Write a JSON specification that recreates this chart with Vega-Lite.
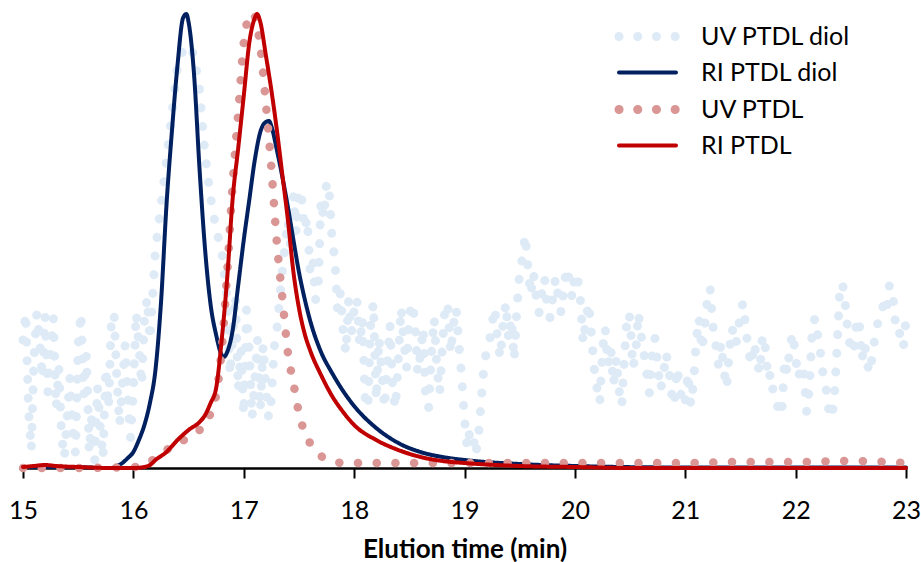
{
  "$schema": "https://vega.github.io/schema/vega-lite/v6.json",
  "width": 883,
  "height": 458,
  "autosize": {"type": "none"},
  "padding": {"left": 23, "top": 10, "right": 15, "bottom": 94},
  "background": "white",
  "config": {"view": {"stroke": null}, "font": "Lato"},
  "datasets": {
    "uvdiol": [
      {"s":"UV PTDL diol","t":15.000,"v":128},{"s":"UV PTDL diol","t":15.025,"v":155},{"s":"UV PTDL diol","t":15.050,"v":58},{"s":"UV PTDL diol","t":15.075,"v":18},{"s":"UV PTDL diol","t":15.100,"v":111},{"s":"UV PTDL diol","t":15.125,"v":155},{"s":"UV PTDL diol","t":15.150,"v":130},{"s":"UV PTDL diol","t":15.175,"v":90},{"s":"UV PTDL diol","t":15.200,"v":152},{"s":"UV PTDL diol","t":15.225,"v":76},
      {"s":"UV PTDL diol","t":15.250,"v":116},{"s":"UV PTDL diol","t":15.275,"v":150},{"s":"UV PTDL diol","t":15.300,"v":60},{"s":"UV PTDL diol","t":15.325,"v":100},{"s":"UV PTDL diol","t":15.350,"v":31},{"s":"UV PTDL diol","t":15.375,"v":10},{"s":"UV PTDL diol","t":15.400,"v":50},{"s":"UV PTDL diol","t":15.425,"v":90},{"s":"UV PTDL diol","t":15.450,"v":38},{"s":"UV PTDL diol","t":15.475,"v":15},
      {"s":"UV PTDL diol","t":15.500,"v":123},{"s":"UV PTDL diol","t":15.525,"v":155},{"s":"UV PTDL diol","t":15.550,"v":73},{"s":"UV PTDL diol","t":15.575,"v":113},{"s":"UV PTDL diol","t":15.600,"v":16},{"s":"UV PTDL diol","t":15.625,"v":56},{"s":"UV PTDL diol","t":15.650,"v":8},{"s":"UV PTDL diol","t":15.675,"v":81},{"s":"UV PTDL diol","t":15.700,"v":41},{"s":"UV PTDL diol","t":15.725,"v":10},
      {"s":"UV PTDL diol","t":15.750,"v":100},{"s":"UV PTDL diol","t":15.775,"v":60},{"s":"UV PTDL diol","t":15.800,"v":146},{"s":"UV PTDL diol","t":15.825,"v":155},{"s":"UV PTDL diol","t":15.850,"v":90},{"s":"UV PTDL diol","t":15.875,"v":43},{"s":"UV PTDL diol","t":15.900,"v":83},{"s":"UV PTDL diol","t":15.925,"v":123},{"s":"UV PTDL diol","t":15.950,"v":70},{"s":"UV PTDL diol","t":15.975,"v":30},
      {"s":"UV PTDL diol","t":16.000,"v":78},{"s":"UV PTDL diol","t":16.025,"v":155},{"s":"UV PTDL diol","t":16.050,"v":123},{"s":"UV PTDL diol","t":16.075,"v":83},{"s":"UV PTDL diol","t":16.100,"v":148},{"s":"UV PTDL diol","t":16.125,"v":170},{"s":"UV PTDL diol","t":16.150,"v":128},{"s":"UV PTDL diol","t":16.175,"v":173},{"s":"UV PTDL diol","t":16.200,"v":218},{"s":"UV PTDL diol","t":16.250,"v":262},
      {"s":"UV PTDL diol","t":16.300,"v":308},{"s":"UV PTDL diol","t":16.350,"v":355},{"s":"UV PTDL diol","t":16.400,"v":402},{"s":"UV PTDL diol","t":16.450,"v":418},{"s":"UV PTDL diol","t":16.500,"v":423},{"s":"UV PTDL diol","t":16.550,"v":413},{"s":"UV PTDL diol","t":16.600,"v":378},{"s":"UV PTDL diol","t":16.650,"v":313},{"s":"UV PTDL diol","t":16.700,"v":270},{"s":"UV PTDL diol","t":16.750,"v":238},
      {"s":"UV PTDL diol","t":16.775,"v":228},{"s":"UV PTDL diol","t":16.800,"v":218},{"s":"UV PTDL diol","t":16.825,"v":193},{"s":"UV PTDL diol","t":16.850,"v":168},{"s":"UV PTDL diol","t":16.875,"v":93},{"s":"UV PTDL diol","t":16.900,"v":133},{"s":"UV PTDL diol","t":16.925,"v":173},{"s":"UV PTDL diol","t":16.950,"v":78},{"s":"UV PTDL diol","t":16.975,"v":118},{"s":"UV PTDL diol","t":17.000,"v":53},
      {"s":"UV PTDL diol","t":17.025,"v":158},{"s":"UV PTDL diol","t":17.050,"v":118},{"s":"UV PTDL diol","t":17.075,"v":50},{"s":"UV PTDL diol","t":17.100,"v":88},{"s":"UV PTDL diol","t":17.125,"v":128},{"s":"UV PTDL diol","t":17.150,"v":58},{"s":"UV PTDL diol","t":17.175,"v":123},{"s":"UV PTDL diol","t":17.200,"v":83},{"s":"UV PTDL diol","t":17.225,"v":50},{"s":"UV PTDL diol","t":17.250,"v":68},
      {"s":"UV PTDL diol","t":17.275,"v":120},{"s":"UV PTDL diol","t":17.300,"v":138},{"s":"UV PTDL diol","t":17.325,"v":168},{"s":"UV PTDL diol","t":17.350,"v":198},{"s":"UV PTDL diol","t":17.375,"v":223},{"s":"UV PTDL diol","t":17.400,"v":248},{"s":"UV PTDL diol","t":17.425,"v":220},{"s":"UV PTDL diol","t":17.450,"v":273},{"s":"UV PTDL diol","t":17.475,"v":235},{"s":"UV PTDL diol","t":17.500,"v":278},
      {"s":"UV PTDL diol","t":17.525,"v":270},{"s":"UV PTDL diol","t":17.550,"v":238},{"s":"UV PTDL diol","t":17.575,"v":250},{"s":"UV PTDL diol","t":17.600,"v":198},{"s":"UV PTDL diol","t":17.625,"v":210},{"s":"UV PTDL diol","t":17.650,"v":168},{"s":"UV PTDL diol","t":17.675,"v":180},{"s":"UV PTDL diol","t":17.700,"v":268},{"s":"UV PTDL diol","t":17.725,"v":250},{"s":"UV PTDL diol","t":17.750,"v":286},
      {"s":"UV PTDL diol","t":17.775,"v":275},{"s":"UV PTDL diol","t":17.800,"v":228},{"s":"UV PTDL diol","t":17.825,"v":210},{"s":"UV PTDL diol","t":17.850,"v":158},{"s":"UV PTDL diol","t":17.875,"v":175},{"s":"UV PTDL diol","t":17.900,"v":138},{"s":"UV PTDL diol","t":17.925,"v":115},{"s":"UV PTDL diol","t":17.950,"v":168},{"s":"UV PTDL diol","t":17.975,"v":135},{"s":"UV PTDL diol","t":18.000,"v":158},
      {"s":"UV PTDL diol","t":18.025,"v":170},{"s":"UV PTDL diol","t":18.050,"v":123},{"s":"UV PTDL diol","t":18.075,"v":150},{"s":"UV PTDL diol","t":18.100,"v":68},{"s":"UV PTDL diol","t":18.125,"v":60},{"s":"UV PTDL diol","t":18.150,"v":146},{"s":"UV PTDL diol","t":18.175,"v":165},{"s":"UV PTDL diol","t":18.200,"v":68},{"s":"UV PTDL diol","t":18.225,"v":130},{"s":"UV PTDL diol","t":18.250,"v":98},
      {"s":"UV PTDL diol","t":18.275,"v":60},{"s":"UV PTDL diol","t":18.300,"v":103},{"s":"UV PTDL diol","t":18.325,"v":143},{"s":"UV PTDL diol","t":18.350,"v":78},{"s":"UV PTDL diol","t":18.375,"v":60},{"s":"UV PTDL diol","t":18.400,"v":108},{"s":"UV PTDL diol","t":18.425,"v":160},{"s":"UV PTDL diol","t":18.450,"v":128},{"s":"UV PTDL diol","t":18.475,"v":100},{"s":"UV PTDL diol","t":18.500,"v":153},
      {"s":"UV PTDL diol","t":18.525,"v":165},{"s":"UV PTDL diol","t":18.550,"v":148},{"s":"UV PTDL diol","t":18.575,"v":95},{"s":"UV PTDL diol","t":18.600,"v":113},{"s":"UV PTDL diol","t":18.625,"v":140},{"s":"UV PTDL diol","t":18.650,"v":63},{"s":"UV PTDL diol","t":18.675,"v":60},{"s":"UV PTDL diol","t":18.700,"v":115},{"s":"UV PTDL diol","t":18.725,"v":150},{"s":"UV PTDL diol","t":18.750,"v":101},
      {"s":"UV PTDL diol","t":18.775,"v":75},{"s":"UV PTDL diol","t":18.800,"v":123},{"s":"UV PTDL diol","t":18.825,"v":165},{"s":"UV PTDL diol","t":18.850,"v":160},{"s":"UV PTDL diol","t":18.875,"v":115},{"s":"UV PTDL diol","t":18.900,"v":143},{"s":"UV PTDL diol","t":18.925,"v":160},{"s":"UV PTDL diol","t":18.950,"v":123},{"s":"UV PTDL diol","t":18.975,"v":90},{"s":"UV PTDL diol","t":19.000,"v":48},
      {"s":"UV PTDL diol","t":19.025,"v":20},{"s":"UV PTDL diol","t":19.050,"v":38},{"s":"UV PTDL diol","t":19.075,"v":35},{"s":"UV PTDL diol","t":19.100,"v":13},{"s":"UV PTDL diol","t":19.125,"v":30},{"s":"UV PTDL diol","t":19.150,"v":66},{"s":"UV PTDL diol","t":19.175,"v":100},{"s":"UV PTDL diol","t":19.200,"v":118},{"s":"UV PTDL diol","t":19.225,"v":125},{"s":"UV PTDL diol","t":19.250,"v":145},
      {"s":"UV PTDL diol","t":19.275,"v":160},{"s":"UV PTDL diol","t":19.300,"v":126},{"s":"UV PTDL diol","t":19.325,"v":110},{"s":"UV PTDL diol","t":19.350,"v":146},{"s":"UV PTDL diol","t":19.375,"v":165},{"s":"UV PTDL diol","t":19.400,"v":128},{"s":"UV PTDL diol","t":19.425,"v":150},{"s":"UV PTDL diol","t":19.450,"v":108},{"s":"UV PTDL diol","t":19.475,"v":160},{"s":"UV PTDL diol","t":19.500,"v":196},
      {"s":"UV PTDL diol","t":19.525,"v":210},{"s":"UV PTDL diol","t":19.550,"v":233},{"s":"UV PTDL diol","t":19.575,"v":200},{"s":"UV PTDL diol","t":19.600,"v":173},{"s":"UV PTDL diol","t":19.625,"v":195},{"s":"UV PTDL diol","t":19.650,"v":171},{"s":"UV PTDL diol","t":19.675,"v":155},{"s":"UV PTDL diol","t":19.700,"v":175},{"s":"UV PTDL diol","t":19.725,"v":190},{"s":"UV PTDL diol","t":19.750,"v":161},
      {"s":"UV PTDL diol","t":19.775,"v":150},{"s":"UV PTDL diol","t":19.800,"v":171},{"s":"UV PTDL diol","t":19.825,"v":190},{"s":"UV PTDL diol","t":19.850,"v":171},{"s":"UV PTDL diol","t":19.875,"v":155},{"s":"UV PTDL diol","t":19.900,"v":181},{"s":"UV PTDL diol","t":19.925,"v":200},{"s":"UV PTDL diol","t":19.950,"v":188},{"s":"UV PTDL diol","t":19.975,"v":170},{"s":"UV PTDL diol","t":20.000,"v":195},
      {"s":"UV PTDL diol","t":20.025,"v":190},{"s":"UV PTDL diol","t":20.050,"v":168},{"s":"UV PTDL diol","t":20.075,"v":125},{"s":"UV PTDL diol","t":20.100,"v":148},{"s":"UV PTDL diol","t":20.125,"v":165},{"s":"UV PTDL diol","t":20.150,"v":133},{"s":"UV PTDL diol","t":20.175,"v":100},{"s":"UV PTDL diol","t":20.200,"v":80},{"s":"UV PTDL diol","t":20.225,"v":65},{"s":"UV PTDL diol","t":20.250,"v":118},
      {"s":"UV PTDL diol","t":20.275,"v":140},{"s":"UV PTDL diol","t":20.300,"v":103},{"s":"UV PTDL diol","t":20.325,"v":120},{"s":"UV PTDL diol","t":20.350,"v":83},{"s":"UV PTDL diol","t":20.375,"v":110},{"s":"UV PTDL diol","t":20.400,"v":78},{"s":"UV PTDL diol","t":20.425,"v":62},{"s":"UV PTDL diol","t":20.450,"v":113},{"s":"UV PTDL diol","t":20.475,"v":155},{"s":"UV PTDL diol","t":20.500,"v":150},
      {"s":"UV PTDL diol","t":20.525,"v":100},{"s":"UV PTDL diol","t":20.550,"v":113},{"s":"UV PTDL diol","t":20.575,"v":155},{"s":"UV PTDL diol","t":20.600,"v":133},{"s":"UV PTDL diol","t":20.625,"v":115},{"s":"UV PTDL diol","t":20.650,"v":95},{"s":"UV PTDL diol","t":20.675,"v":75},{"s":"UV PTDL diol","t":20.700,"v":113},{"s":"UV PTDL diol","t":20.725,"v":130},{"s":"UV PTDL diol","t":20.750,"v":103},
      {"s":"UV PTDL diol","t":20.775,"v":78},{"s":"UV PTDL diol","t":20.800,"v":90},{"s":"UV PTDL diol","t":20.825,"v":115},{"s":"UV PTDL diol","t":20.850,"v":101},{"s":"UV PTDL diol","t":20.875,"v":75},{"s":"UV PTDL diol","t":20.900,"v":63},{"s":"UV PTDL diol","t":20.925,"v":100},{"s":"UV PTDL diol","t":20.950,"v":83},{"s":"UV PTDL diol","t":20.975,"v":62},{"s":"UV PTDL diol","t":21.000,"v":68},
      {"s":"UV PTDL diol","t":21.025,"v":95},{"s":"UV PTDL diol","t":21.050,"v":63},{"s":"UV PTDL diol","t":21.075,"v":85},{"s":"UV PTDL diol","t":21.100,"v":128},{"s":"UV PTDL diol","t":21.125,"v":150},{"s":"UV PTDL diol","t":21.150,"v":118},{"s":"UV PTDL diol","t":21.175,"v":140},{"s":"UV PTDL diol","t":21.200,"v":168},{"s":"UV PTDL diol","t":21.225,"v":180},{"s":"UV PTDL diol","t":21.250,"v":143},
      {"s":"UV PTDL diol","t":21.275,"v":125},{"s":"UV PTDL diol","t":21.300,"v":103},{"s":"UV PTDL diol","t":21.325,"v":125},{"s":"UV PTDL diol","t":21.350,"v":98},{"s":"UV PTDL diol","t":21.375,"v":80},{"s":"UV PTDL diol","t":21.400,"v":118},{"s":"UV PTDL diol","t":21.425,"v":140},{"s":"UV PTDL diol","t":21.450,"v":123},{"s":"UV PTDL diol","t":21.475,"v":130},{"s":"UV PTDL diol","t":21.500,"v":158},
      {"s":"UV PTDL diol","t":21.525,"v":165},{"s":"UV PTDL diol","t":21.550,"v":138},{"s":"UV PTDL diol","t":21.575,"v":115},{"s":"UV PTDL diol","t":21.600,"v":103},{"s":"UV PTDL diol","t":21.625,"v":125},{"s":"UV PTDL diol","t":21.650,"v":106},{"s":"UV PTDL diol","t":21.675,"v":95},{"s":"UV PTDL diol","t":21.700,"v":133},{"s":"UV PTDL diol","t":21.725,"v":120},{"s":"UV PTDL diol","t":21.750,"v":88},
      {"s":"UV PTDL diol","t":21.775,"v":95},{"s":"UV PTDL diol","t":21.800,"v":73},{"s":"UV PTDL diol","t":21.825,"v":70},{"s":"UV PTDL diol","t":21.850,"v":53},{"s":"UV PTDL diol","t":21.875,"v":55},{"s":"UV PTDL diol","t":21.900,"v":108},{"s":"UV PTDL diol","t":21.925,"v":95},{"s":"UV PTDL diol","t":21.950,"v":123},{"s":"UV PTDL diol","t":21.975,"v":135},{"s":"UV PTDL diol","t":22.000,"v":110},
      {"s":"UV PTDL diol","t":22.025,"v":90},{"s":"UV PTDL diol","t":22.050,"v":103},{"s":"UV PTDL diol","t":22.075,"v":95},{"s":"UV PTDL diol","t":22.100,"v":56},{"s":"UV PTDL diol","t":22.125,"v":80},{"s":"UV PTDL diol","t":22.150,"v":138},{"s":"UV PTDL diol","t":22.175,"v":150},{"s":"UV PTDL diol","t":22.200,"v":133},{"s":"UV PTDL diol","t":22.225,"v":115},{"s":"UV PTDL diol","t":22.250,"v":93},
      {"s":"UV PTDL diol","t":22.275,"v":80},{"s":"UV PTDL diol","t":22.300,"v":58},{"s":"UV PTDL diol","t":22.325,"v":50},{"s":"UV PTDL diol","t":22.350,"v":68},{"s":"UV PTDL diol","t":22.375,"v":120},{"s":"UV PTDL diol","t":22.400,"v":178},{"s":"UV PTDL diol","t":22.425,"v":185},{"s":"UV PTDL diol","t":22.450,"v":163},{"s":"UV PTDL diol","t":22.475,"v":135},{"s":"UV PTDL diol","t":22.500,"v":118},
      {"s":"UV PTDL diol","t":22.525,"v":115},{"s":"UV PTDL diol","t":22.550,"v":143},{"s":"UV PTDL diol","t":22.575,"v":150},{"s":"UV PTDL diol","t":22.600,"v":108},{"s":"UV PTDL diol","t":22.625,"v":125},{"s":"UV PTDL diol","t":22.650,"v":103},{"s":"UV PTDL diol","t":22.675,"v":95},{"s":"UV PTDL diol","t":22.700,"v":118},{"s":"UV PTDL diol","t":22.725,"v":135},{"s":"UV PTDL diol","t":22.750,"v":148},
      {"s":"UV PTDL diol","t":22.775,"v":150},{"s":"UV PTDL diol","t":22.800,"v":168},{"s":"UV PTDL diol","t":22.825,"v":160},{"s":"UV PTDL diol","t":22.850,"v":183},{"s":"UV PTDL diol","t":22.875,"v":180},{"s":"UV PTDL diol","t":22.900,"v":148},{"s":"UV PTDL diol","t":22.925,"v":150},{"s":"UV PTDL diol","t":22.950,"v":128},{"s":"UV PTDL diol","t":22.975,"v":120},{"s":"UV PTDL diol","t":23.000,"v":148}
    ],
    "ridiol": [
      {"s":"RI PTDL diol","t":15.00,"v":1},{"s":"RI PTDL diol","t":15.40,"v":1},{"s":"RI PTDL diol","t":15.80,"v":0},{"s":"RI PTDL diol","t":15.85,"v":2},{"s":"RI PTDL diol","t":15.90,"v":5},{"s":"RI PTDL diol","t":15.95,"v":10},{"s":"RI PTDL diol","t":16.00,"v":16},{"s":"RI PTDL diol","t":16.05,"v":28},{"s":"RI PTDL diol","t":16.10,"v":43},{"s":"RI PTDL diol","t":16.15,"v":65},
      {"s":"RI PTDL diol","t":16.20,"v":98},{"s":"RI PTDL diol","t":16.25,"v":165},{"s":"RI PTDL diol","t":16.30,"v":263},{"s":"RI PTDL diol","t":16.35,"v":338},{"s":"RI PTDL diol","t":16.40,"v":403},{"s":"RI PTDL diol","t":16.45,"v":450},{"s":"RI PTDL diol","t":16.48,"v":454},{"s":"RI PTDL diol","t":16.50,"v":446},{"s":"RI PTDL diol","t":16.55,"v":393},{"s":"RI PTDL diol","t":16.60,"v":298},
      {"s":"RI PTDL diol","t":16.65,"v":218},{"s":"RI PTDL diol","t":16.70,"v":163},{"s":"RI PTDL diol","t":16.75,"v":133},{"s":"RI PTDL diol","t":16.80,"v":113},{"s":"RI PTDL diol","t":16.82,"v":111},{"s":"RI PTDL diol","t":16.85,"v":116},{"s":"RI PTDL diol","t":16.90,"v":138},{"s":"RI PTDL diol","t":16.95,"v":183},{"s":"RI PTDL diol","t":17.00,"v":228},{"s":"RI PTDL diol","t":17.05,"v":268},
      {"s":"RI PTDL diol","t":17.10,"v":308},{"s":"RI PTDL diol","t":17.15,"v":336},{"s":"RI PTDL diol","t":17.20,"v":346},{"s":"RI PTDL diol","t":17.23,"v":347},{"s":"RI PTDL diol","t":17.25,"v":342},{"s":"RI PTDL diol","t":17.30,"v":318},{"s":"RI PTDL diol","t":17.35,"v":291},{"s":"RI PTDL diol","t":17.40,"v":261},{"s":"RI PTDL diol","t":17.45,"v":228},{"s":"RI PTDL diol","t":17.50,"v":196},
      {"s":"RI PTDL diol","t":17.55,"v":170},{"s":"RI PTDL diol","t":17.60,"v":148},{"s":"RI PTDL diol","t":17.70,"v":116},{"s":"RI PTDL diol","t":17.80,"v":95},{"s":"RI PTDL diol","t":17.90,"v":77},{"s":"RI PTDL diol","t":18.00,"v":62},{"s":"RI PTDL diol","t":18.20,"v":40},{"s":"RI PTDL diol","t":18.40,"v":25},{"s":"RI PTDL diol","t":18.60,"v":16},{"s":"RI PTDL diol","t":18.80,"v":11},
      {"s":"RI PTDL diol","t":19.00,"v":8},{"s":"RI PTDL diol","t":19.50,"v":4},{"s":"RI PTDL diol","t":20.00,"v":2},{"s":"RI PTDL diol","t":21.00,"v":0.5},{"s":"RI PTDL diol","t":22.00,"v":0.5},{"s":"RI PTDL diol","t":23.00,"v":0.5}
    ],
    "uv": [
      {"s":"UV PTDL","t":15.00,"v":0},{"s":"UV PTDL","t":15.50,"v":0},{"s":"UV PTDL","t":16.00,"v":1},{"s":"UV PTDL","t":16.10,"v":3},{"s":"UV PTDL","t":16.20,"v":10},{"s":"UV PTDL","t":16.30,"v":18},{"s":"UV PTDL","t":16.40,"v":24},{"s":"UV PTDL","t":16.50,"v":31},{"s":"UV PTDL","t":16.60,"v":38},{"s":"UV PTDL","t":16.65,"v":43},
      {"s":"UV PTDL","t":16.70,"v":55},{"s":"UV PTDL","t":16.75,"v":73},{"s":"UV PTDL","t":16.80,"v":118},{"s":"UV PTDL","t":16.85,"v":195},{"s":"UV PTDL","t":16.90,"v":285},{"s":"UV PTDL","t":16.95,"v":355},{"s":"UV PTDL","t":17.00,"v":425},{"s":"UV PTDL","t":17.05,"v":452},{"s":"UV PTDL","t":17.08,"v":455},{"s":"UV PTDL","t":17.10,"v":452},
      {"s":"UV PTDL","t":17.15,"v":421},{"s":"UV PTDL","t":17.20,"v":365},{"s":"UV PTDL","t":17.25,"v":300},{"s":"UV PTDL","t":17.30,"v":225},{"s":"UV PTDL","t":17.35,"v":170},{"s":"UV PTDL","t":17.40,"v":115},{"s":"UV PTDL","t":17.45,"v":85},{"s":"UV PTDL","t":17.50,"v":55},{"s":"UV PTDL","t":17.55,"v":36},{"s":"UV PTDL","t":17.60,"v":25},
      {"s":"UV PTDL","t":17.70,"v":12},{"s":"UV PTDL","t":17.80,"v":7},{"s":"UV PTDL","t":17.90,"v":5},{"s":"UV PTDL","t":18.00,"v":5},{"s":"UV PTDL","t":18.50,"v":5},{"s":"UV PTDL","t":19.00,"v":5},{"s":"UV PTDL","t":19.50,"v":5},{"s":"UV PTDL","t":20.00,"v":5},{"s":"UV PTDL","t":20.50,"v":5},{"s":"UV PTDL","t":21.00,"v":5},
      {"s":"UV PTDL","t":21.50,"v":6},{"s":"UV PTDL","t":22.00,"v":6},{"s":"UV PTDL","t":22.50,"v":7},{"s":"UV PTDL","t":23.00,"v":5}
    ],
    "ri": [
      {"s":"RI PTDL","t":15.00,"v":1},{"s":"RI PTDL","t":15.10,"v":2},{"s":"RI PTDL","t":15.20,"v":3},{"s":"RI PTDL","t":15.30,"v":2},{"s":"RI PTDL","t":15.50,"v":1},{"s":"RI PTDL","t":15.80,"v":0},{"s":"RI PTDL","t":16.00,"v":0},{"s":"RI PTDL","t":16.10,"v":1},{"s":"RI PTDL","t":16.15,"v":3},{"s":"RI PTDL","t":16.20,"v":8},
      {"s":"RI PTDL","t":16.30,"v":16},{"s":"RI PTDL","t":16.40,"v":28},{"s":"RI PTDL","t":16.50,"v":38},{"s":"RI PTDL","t":16.60,"v":46},{"s":"RI PTDL","t":16.65,"v":53},{"s":"RI PTDL","t":16.70,"v":65},{"s":"RI PTDL","t":16.75,"v":80},{"s":"RI PTDL","t":16.80,"v":128},{"s":"RI PTDL","t":16.85,"v":190},{"s":"RI PTDL","t":16.90,"v":270},
      {"s":"RI PTDL","t":16.95,"v":320},{"s":"RI PTDL","t":17.00,"v":372},{"s":"RI PTDL","t":17.05,"v":425},{"s":"RI PTDL","t":17.10,"v":450},{"s":"RI PTDL","t":17.12,"v":454},{"s":"RI PTDL","t":17.15,"v":446},{"s":"RI PTDL","t":17.20,"v":413},{"s":"RI PTDL","t":17.25,"v":378},{"s":"RI PTDL","t":17.30,"v":338},{"s":"RI PTDL","t":17.35,"v":293},
      {"s":"RI PTDL","t":17.40,"v":248},{"s":"RI PTDL","t":17.45,"v":196},{"s":"RI PTDL","t":17.50,"v":160},{"s":"RI PTDL","t":17.55,"v":135},{"s":"RI PTDL","t":17.60,"v":118},{"s":"RI PTDL","t":17.70,"v":93},{"s":"RI PTDL","t":17.80,"v":72},{"s":"RI PTDL","t":17.90,"v":56},{"s":"RI PTDL","t":18.00,"v":43},{"s":"RI PTDL","t":18.20,"v":28},
      {"s":"RI PTDL","t":18.40,"v":18},{"s":"RI PTDL","t":18.60,"v":11},{"s":"RI PTDL","t":18.80,"v":7},{"s":"RI PTDL","t":19.00,"v":5},{"s":"RI PTDL","t":19.50,"v":2},{"s":"RI PTDL","t":20.00,"v":1},{"s":"RI PTDL","t":20.50,"v":0},{"s":"RI PTDL","t":23.00,"v":0}
    ]
  },
  "encoding": {
    "x": {
      "field": "t", "type": "quantitative",
      "scale": {"domain": [15, 23], "nice": false, "zero": false},
      "axis": {
        "values": [15, 16, 17, 18, 19, 20, 21, 22, 23], "format": "d",
        "title": "Elution time (min)", "titleFont": "Lato", "titleFontSize": 26, "titleFontWeight": "bold", "titleColor": "black", "titlePadding": 13,
        "labelFont": "Lato", "labelFontSize": 25, "labelColor": "black", "labelPadding": 20, "labelFlush": false,
        "domainColor": "black", "domainWidth": 2.5, "tickColor": "black", "tickWidth": 2, "tickSize": 10, "grid": false
      }
    },
    "y": {"field": "v", "type": "quantitative", "scale": {"domain": [0, 458], "nice": false}, "axis": null},
    "color": {
      "field": "s", "type": "nominal",
      "scale": {"domain": ["UV PTDL diol", "RI PTDL diol", "UV PTDL", "RI PTDL"], "range": ["#DEEBF7", "#002060", "#D99694", "#C00000"]},
      "legend": {"orient": "none", "legendX": 612, "legendY": 14, "title": null, "padding": 0, "labelFont": "Lato", "labelFontSize": 25, "labelColor": "black", "labelLimit": 0, "symbolType": "M-5.7,0H5.7", "symbolSize": 100, "symbolOpacity": 1, "rowPadding": 5, "labelOffset": 41, "encode": {"symbols": {"update": {"strokeCap": {"value": "round"}, "fill": {"value": "transparent"}, "strokeWidth": {"signal": "indexof(['RI PTDL diol','RI PTDL'], datum.value) >= 0 ? 4 : 9"}}}}}
    },
    "strokeDash": {
      "field": "s", "type": "nominal",
      "scale": {"domain": ["UV PTDL diol", "RI PTDL diol", "UV PTDL", "RI PTDL"], "range": [[0.1, 18.6], [1, 0], [0.1, 18.6], [1, 0]]},
      "legend": {"orient": "none", "legendX": 612, "legendY": 14, "title": null, "padding": 0, "labelFont": "Lato", "labelFontSize": 25, "labelColor": "black", "labelLimit": 0, "symbolType": "M-5.7,0H5.7", "symbolSize": 100, "symbolOpacity": 1, "rowPadding": 5, "labelOffset": 41, "encode": {"symbols": {"update": {"strokeCap": {"value": "round"}, "fill": {"value": "transparent"}, "strokeWidth": {"signal": "indexof(['RI PTDL diol','RI PTDL'], datum.value) >= 0 ? 4 : 9"}}}}}
    }
  },
  "layer": [
    {"data": {"name": "uvdiol"}, "mark": {"type": "line", "strokeWidth": 9, "strokeCap": "round", "strokeJoin": "round", "interpolate": "linear"}},
    {"data": {"name": "ridiol"}, "mark": {"type": "line", "strokeWidth": 4, "strokeCap": "round", "strokeJoin": "round", "interpolate": "monotone"}},
    {"data": {"name": "uv"}, "mark": {"type": "line", "strokeWidth": 8.5, "strokeCap": "round", "strokeJoin": "round", "interpolate": "monotone"}},
    {"data": {"name": "ri"}, "mark": {"type": "line", "strokeWidth": 4, "strokeCap": "round", "strokeJoin": "round", "interpolate": "monotone"}}
  ]
}
